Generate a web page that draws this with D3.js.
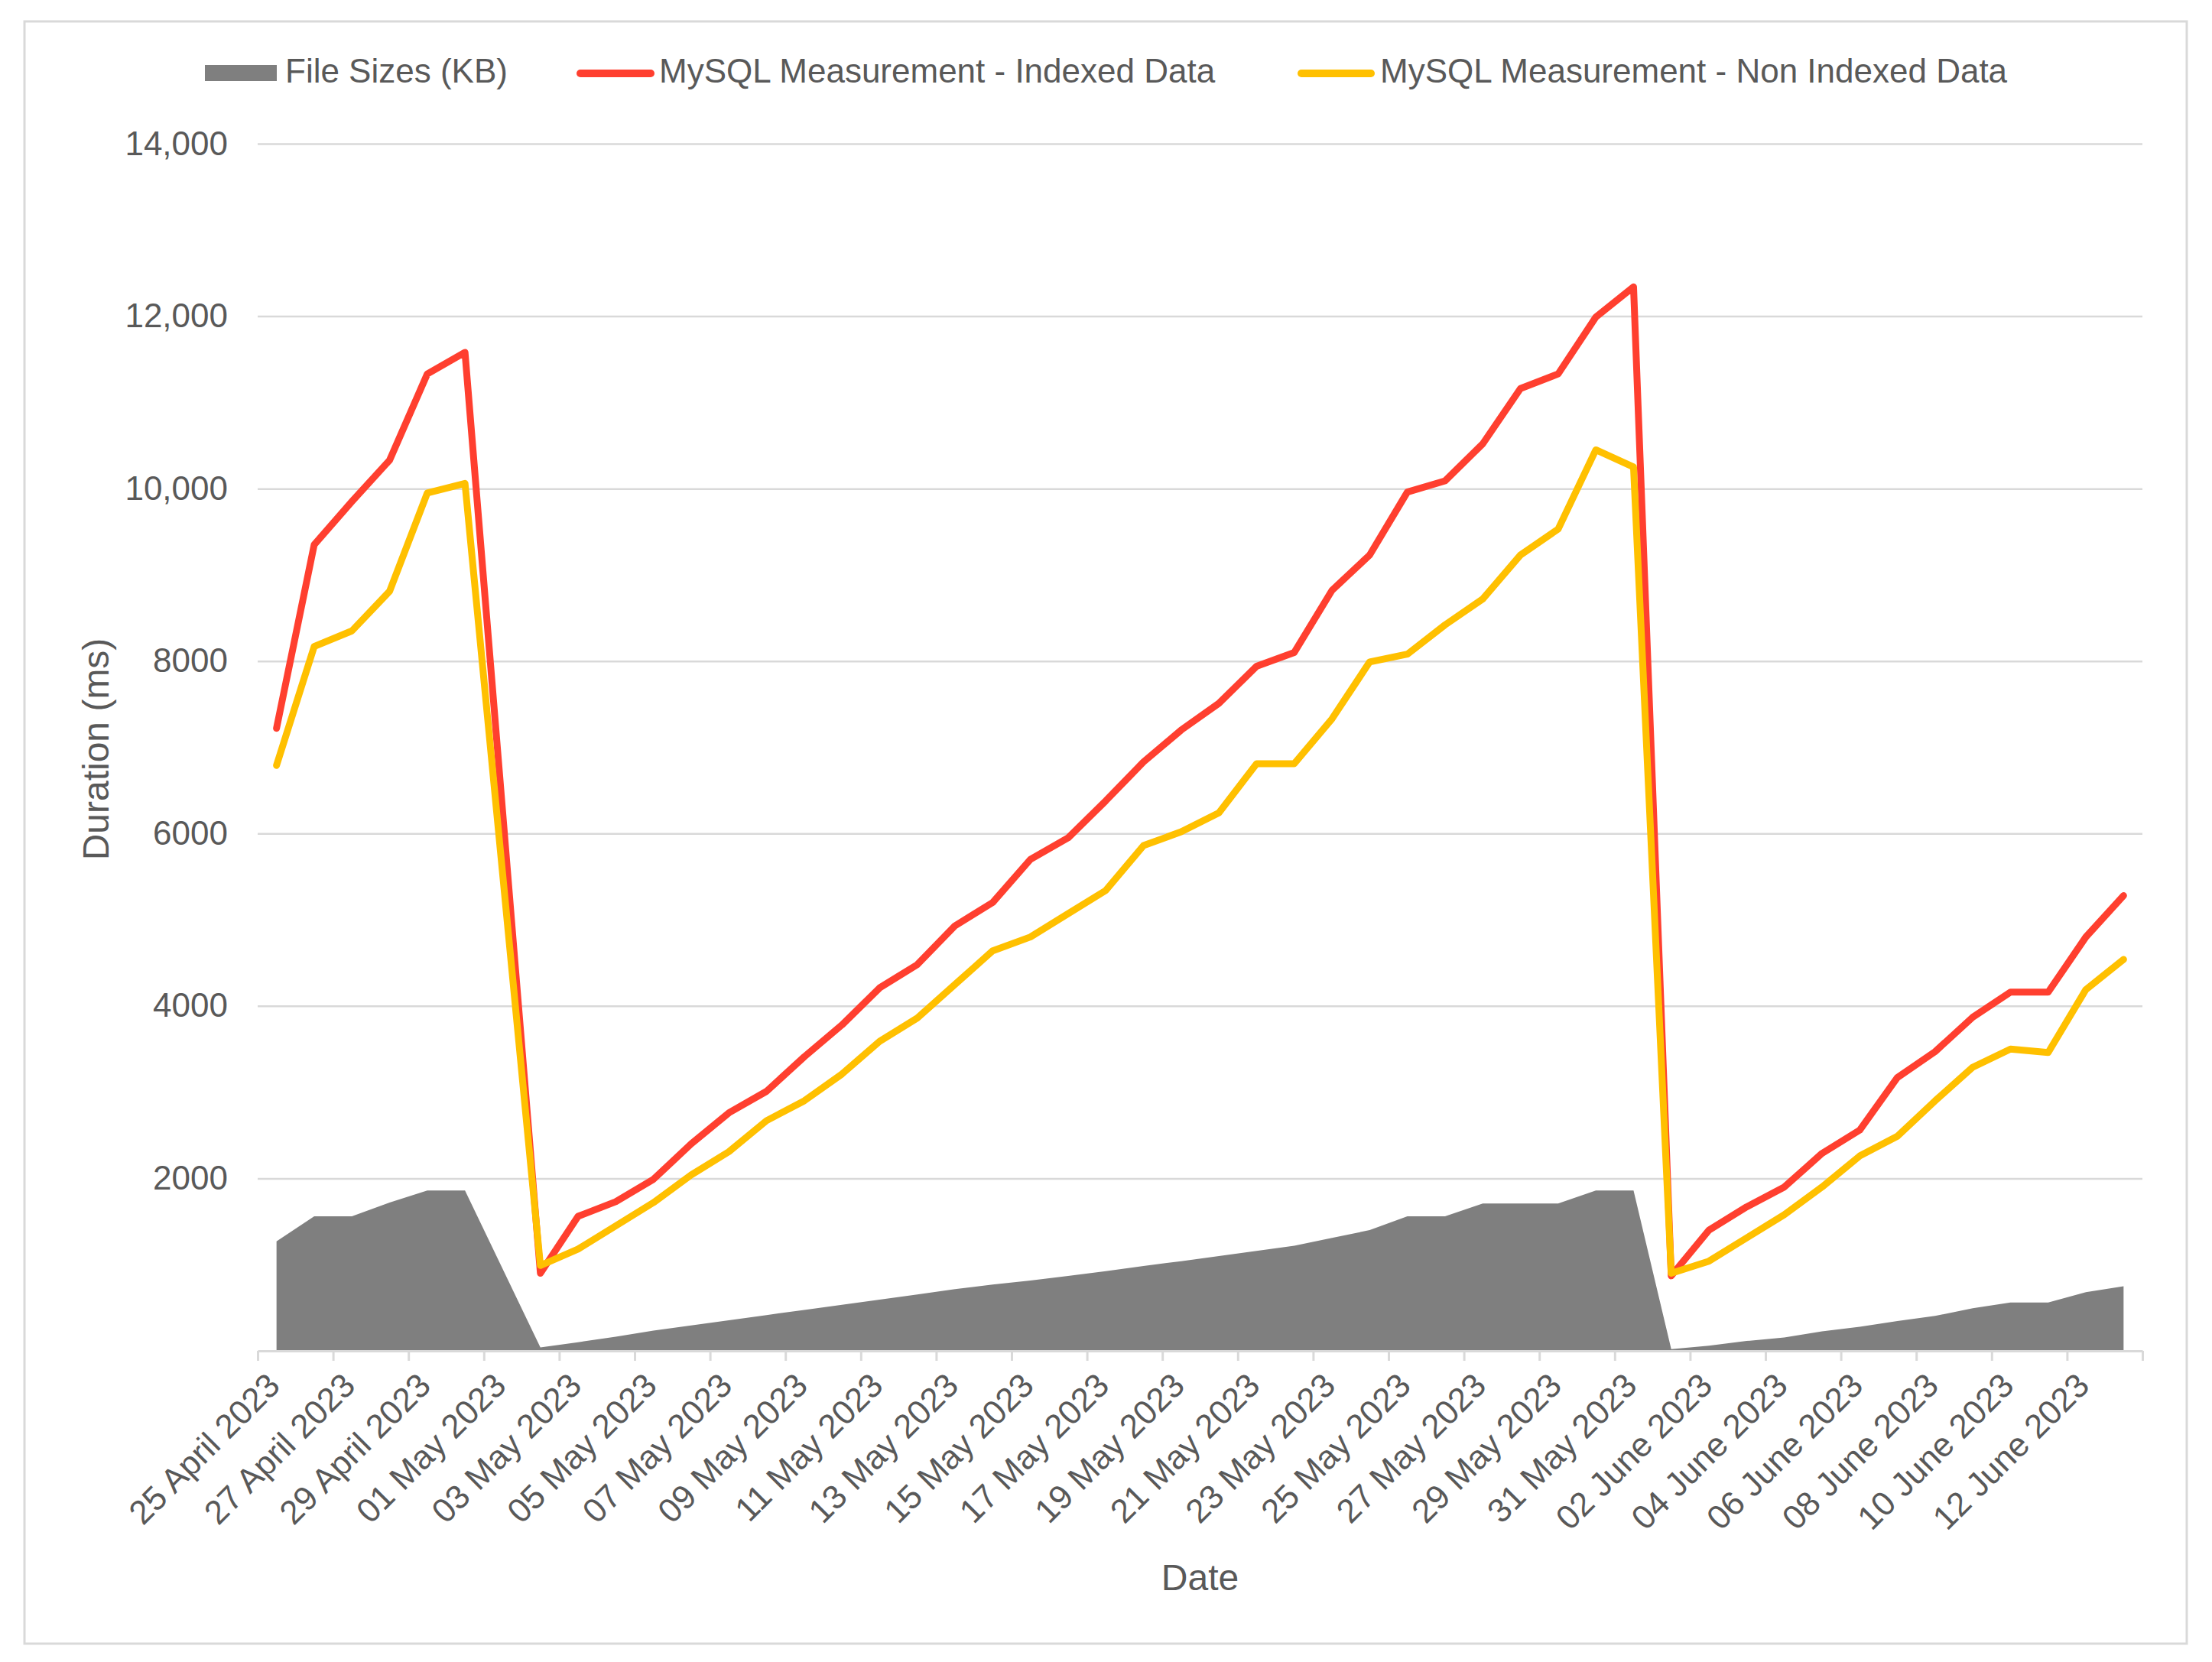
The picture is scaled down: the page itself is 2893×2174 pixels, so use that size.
<!DOCTYPE html>
<html>
<head>
<meta charset="utf-8">
<script src="https://cdn.jsdelivr.net/npm/d3@7"></script>
<style>
  body { margin: 0; background: #fff; }
  text { font-family: "Liberation Sans", Arial, sans-serif; fill: #595959; }
</style>
</head>
<body>
<div id="chart_wrapper"></div>
<script>
// categories (one per day)
var dates = [
  "2023-04-25","2023-04-26","2023-04-27","2023-04-28","2023-04-29","2023-04-30",
  "2023-05-01","2023-05-02","2023-05-03","2023-05-04","2023-05-05","2023-05-06",
  "2023-05-07","2023-05-08","2023-05-09","2023-05-10","2023-05-11","2023-05-12",
  "2023-05-13","2023-05-14","2023-05-15","2023-05-16","2023-05-17","2023-05-18",
  "2023-05-19","2023-05-20","2023-05-21","2023-05-22","2023-05-23","2023-05-24",
  "2023-05-25","2023-05-26","2023-05-27","2023-05-28","2023-05-29","2023-05-30",
  "2023-05-31","2023-06-01","2023-06-02","2023-06-03","2023-06-04","2023-06-05",
  "2023-06-06","2023-06-07","2023-06-08","2023-06-09","2023-06-10","2023-06-11",
  "2023-06-12","2023-06-13"
];

// 1 May has no measurement (lines/area are joined across it)
var fileSizes = [
  1270, 1560, 1560, 1720, 1860, 1860, null, 40, 100, 165,
  235, 295, 355, 415, 475, 535, 595, 655, 715, 770,
  815, 870, 925, 985, 1040, 1100, 1160, 1220, 1310, 1400,
  1560, 1560, 1710, 1710, 1710, 1860, 1860, 20, 60, 115,
  155, 225, 280, 345, 405, 495, 560, 560, 680, 750
];

var indexed = [
  7220, 9350, 9850, 10330, 11330, 11580, null, 900, 1560, 1730,
  1990, 2400, 2760, 3010, 3410, 3780, 4210, 4480, 4930, 5200,
  5700, 5950, 6380, 6830, 7200, 7510, 7940, 8100, 8820, 9230,
  9960, 10090, 10520, 11160, 11330, 11990, 12340, 870, 1400, 1670,
  1900, 2290, 2560, 3170, 3470, 3870, 4160, 4160, 4800, 5280
];

var nonIndexed = [
  6790, 8170, 8350, 8810, 9950, 10060, null, 990, 1180, 1450,
  1720, 2040, 2310, 2670, 2900, 3210, 3590, 3860, 4250, 4640,
  4800, 5070, 5340, 5860, 6020, 6240, 6810, 6810, 7330, 7990,
  8080, 8420, 8720, 9230, 9530, 10450, 10250, 900, 1040, 1310,
  1580, 1900, 2260, 2490, 2900, 3290, 3500, 3460, 4190, 4540
];

var seriesNames = ["File Sizes (KB)", "MySQL Measurement - Indexed Data", "MySQL Measurement - Non Indexed Data"];
var yTicks = [2000, 4000, 6000, 8000, 10000, 12000, 14000];
var yTickLabels = ["2000", "4000", "6000", "8000", "10,000", "12,000", "14,000"];

var W = 2893, H = 2174;
var plot = { left: 337, right: 2802, top: 188, bottom: 1767 };

var svg = d3.select("#chart_wrapper").append("svg")
    .attr("width", W).attr("height", H);

svg.append("rect")
    .attr("x", 32).attr("y", 28)
    .attr("width", 2828).attr("height", 2122)
    .attr("fill", "#fff").attr("stroke", "#d9d9d9").attr("stroke-width", 3);

var parse = d3.timeParse("%Y-%m-%d");
var fmt = d3.timeFormat("%d %B %Y");

var x = d3.scaleBand().domain(dates).range([plot.left, plot.right]).padding(0);
var xi = d3.scaleLinear().domain([0, dates.length]).range([plot.left, plot.right]);
var y = d3.scaleLinear().domain([0, 14000]).range([plot.bottom, plot.top]);
var cx = function(d) { return x(d.date) + x.bandwidth() / 2; };

function rows(values) {
  return dates.map(function(d, i) { return { date: d, v: values[i] }; })
    .filter(function(d) { return d.v != null; });
}

// gridlines
var grid = svg.append("g")
    .attr("transform", "translate(" + plot.left + ",0)")
    .call(d3.axisLeft(y).tickValues(yTicks).tickSize(-(plot.right - plot.left)).tickFormat(""));
grid.select(".domain").remove();
grid.selectAll("line").attr("stroke", "#d9d9d9").attr("stroke-width", 2.5);

// y labels
var yAxis = svg.append("g")
    .attr("transform", "translate(" + plot.left + ",0)")
    .call(d3.axisLeft(y).tickValues(yTicks).tickSize(0).tickPadding(39)
      .tickFormat(function(d, i) { return yTickLabels[i]; }));
yAxis.select(".domain").remove();
yAxis.selectAll("text")
    .attr("fill", "#595959").style("font-size", "44px")
    .style("font-family", '"Liberation Sans", Arial, sans-serif');

// area
svg.append("path")
    .datum(rows(fileSizes))
    .attr("fill", "#7f7f7f")
    .attr("d", d3.area().x(cx).y0(y(0)).y1(function(d) { return y(d.v); }));

var line = d3.line().x(cx).y(function(d) { return y(d.v); });

svg.append("path")
    .datum(rows(indexed))
    .attr("fill", "none").attr("stroke", "#ff3f2f").attr("stroke-width", 9)
    .attr("stroke-linejoin", "round").attr("stroke-linecap", "round")
    .attr("d", line);

svg.append("path")
    .datum(rows(nonIndexed))
    .attr("fill", "none").attr("stroke", "#ffc000").attr("stroke-width", 9)
    .attr("stroke-linejoin", "round").attr("stroke-linecap", "round")
    .attr("d", line);

// x axis
var xAxis = svg.append("g")
    .attr("transform", "translate(0," + plot.bottom + ")")
    .call(d3.axisBottom(xi).tickValues(d3.range(0, dates.length + 1, 2)).tickSize(13).tickSizeOuter(0).tickFormat(""));
xAxis.select(".domain").attr("stroke", "#d9d9d9").attr("stroke-width", 3);
xAxis.selectAll("line").attr("stroke", "#d9d9d9").attr("stroke-width", 3);

svg.append("g").selectAll("text")
    .data(dates.filter(function(d, i) { return i % 2 == 0; }))
    .enter().append("text")
      .attr("transform", function(d) {
        return "translate(" + (x(d) + x.bandwidth() / 2 - 4) + "," + (plot.bottom + 37) + ") rotate(-45)";
      })
      .attr("text-anchor", "end")
      .attr("dy", "0.35em")
      .style("font-size", "44px")
      .text(function(d) { return fmt(parse(d)); });

// axis titles
svg.append("text")
    .attr("x", (plot.left + plot.right) / 2).attr("y", 2080)
    .attr("text-anchor", "middle").style("font-size", "48px")
    .text("Date");

svg.append("text")
    .attr("transform", "translate(142,980) rotate(-90)")
    .attr("text-anchor", "middle").style("font-size", "48px")
    .text("Duration (ms)");

// legend
var legend = svg.append("g");
legend.append("rect")
    .attr("x", 268).attr("y", 85).attr("width", 94).attr("height", 21)
    .attr("fill", "#7f7f7f");
legend.append("text").attr("x", 373).attr("y", 108).style("font-size", "44px").text(seriesNames[0]);

legend.append("line")
    .attr("x1", 759).attr("x2", 851).attr("y1", 96).attr("y2", 96)
    .attr("stroke", "#ff3f2f").attr("stroke-width", 10).attr("stroke-linecap", "round");
legend.append("text").attr("x", 862).attr("y", 108).style("font-size", "44px").text(seriesNames[1]);

legend.append("line")
    .attr("x1", 1702).attr("x2", 1793).attr("y1", 96).attr("y2", 96)
    .attr("stroke", "#ffc000").attr("stroke-width", 10).attr("stroke-linecap", "round");
legend.append("text").attr("x", 1805).attr("y", 108).style("font-size", "44px").text(seriesNames[2]);
</script>
</body>
</html>
